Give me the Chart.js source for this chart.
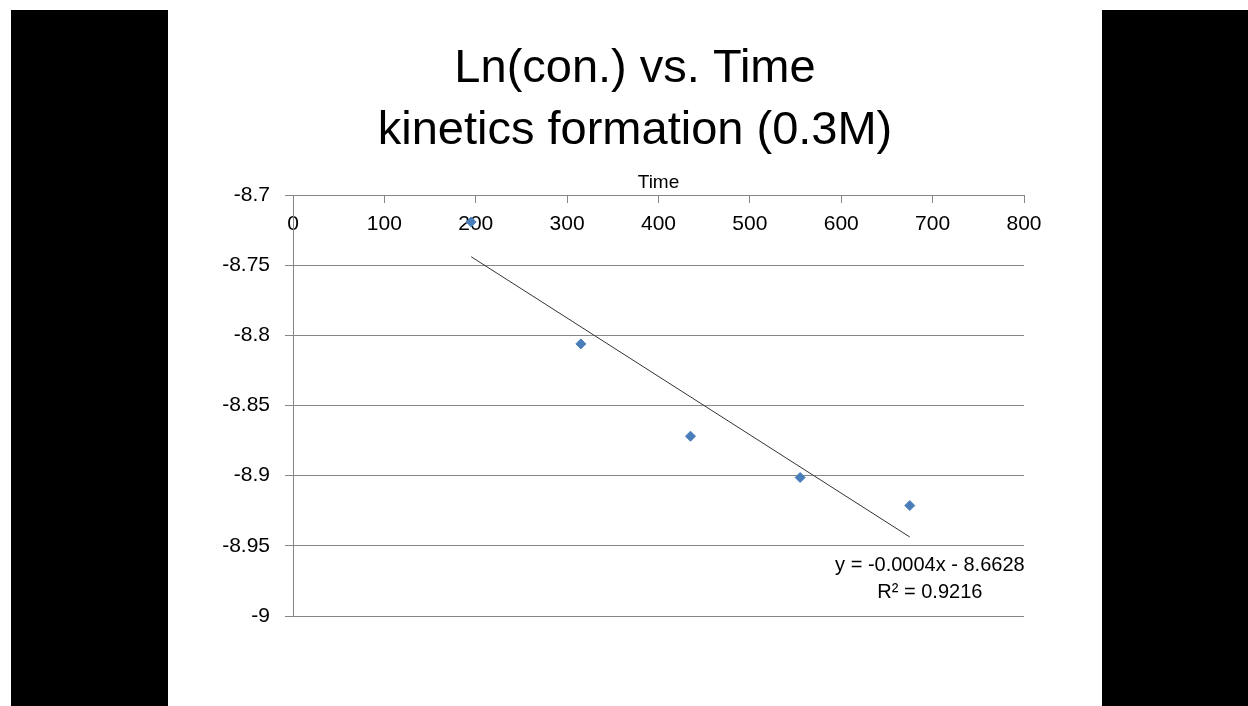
<!DOCTYPE html>
<html>
<head>
<meta charset="utf-8">
<title>Ln(con.) vs. Time</title>
<script src="https://cdn.jsdelivr.net/npm/chart.js@4.4.0/dist/chart.umd.min.js"></script>
<style>
  html, body { margin: 0; padding: 0; background: #fff; }
  #frame { position: absolute; left: 11px; top: 10px; width: 1237px; height: 696px; background: #000; }
  #slide { position: absolute; left: 157px; top: 0; width: 934px; height: 696px; background: #fff; }
</style>
</head>
<body>
<div id="frame">
  <div id="slide"><canvas id="kinetics-chart"></canvas></div>
</div>
<script>
// Readings: time and Ln(concentration).
const times = [ 195, 315, 435, 555, 675 ];
const lnConc = [ -8.7192, -8.8061, -8.8719, -8.9013, -8.9213 ];

// Ends of the linear trendline as drawn on the slide.
const trendTimes = [ 195, 675 ];
const trendValues = [ -8.7440, -8.9437 ];

// Axis ticks.
const timeTicks = [ 0, 100, 200, 300, 400, 500, 600, 700, 800 ];
const lnTicks = [ -8.7, -8.75, -8.8, -8.85, -8.9, -8.95, -9 ];

// Texts.
const titleLines = [ 'Ln(con.) vs. Time', 'kinetics formation (0.3M)' ];
const axisTitle = 'Time';
const equationLines = [ 'y = -0.0004x - 8.6628', 'R\u00b2 = 0.9216' ];

( function () {
  'use strict';

  const FONT = "'Liberation Sans', Arial, sans-serif";
  const GRID = '#868686';

  /**
   * Trendline equation, anchored in data space.
   */
  const equationLabel = {
    id: 'equationLabel',
    afterDatasetsDraw( chart ) {
      const ctx = chart.ctx;
      const x = chart.scales.x.getPixelForValue( 697 );
      const y = chart.scales.y.getPixelForValue( -8.9637 );
      ctx.save();
      ctx.font = '20px ' + FONT;
      ctx.fillStyle = '#000';
      ctx.textAlign = 'center';
      ctx.textBaseline = 'middle';
      equationLines.forEach( ( line, i ) => ctx.fillText( line, x, y + i * 27 ) );
      ctx.restore();
    }
  };

  function initChart() {
    const canvas = document.getElementById( 'kinetics-chart' );
    if ( ! canvas ) {
      return;
    }

    new Chart( canvas.getContext( '2d' ), {
      type: 'scatter',
      data: {
        datasets: [
          {
            label: 'Ln(con.)',
            data: times.map( ( t, i ) => ( { x: t, y: lnConc[ i ] } ) ),
            pointStyle: 'rectRot',
            pointRadius: 5,
            pointBackgroundColor: '#4A7EBB',
            pointBorderColor: '#4A7EBB',
            pointBorderWidth: 1,
            showLine: false,
            order: 0,
          },
          {
            label: 'Linear (Ln(con.))',
            data: trendTimes.map( ( t, i ) => ( { x: t, y: trendValues[ i ] } ) ),
            showLine: true,
            pointRadius: 0,
            borderColor: '#333333',
            borderWidth: 1,
            order: 1,
          },
        ],
      },
      options: {
        responsive: true,
        maintainAspectRatio: false,
        animation: false,
        layout: {
          padding: { left: 0, right: 0, top: 0, bottom: 90 },
        },
        plugins: {
          legend: { display: false },
          tooltip: { enabled: false },
          title: {
            display: true,
            text: titleLines,
            color: '#000',
            font: { family: FONT, size: 47, weight: 'normal', lineHeight: 62 / 47 },
            padding: { top: 28, bottom: 0 },
          },
        },
        scales: {
          x: {
            type: 'linear',
            position: { y: -8.7 },
            min: 0,
            max: 800,
            z: 1,
            afterBuildTicks: ( scale ) => {
              scale.ticks = timeTicks.map( ( v ) => ( { value: v } ) );
            },
            ticks: {
              color: '#000',
              font: { family: FONT, size: 21 },
              padding: 10,
              maxRotation: 0,
              autoSkip: false,
              callback: ( v ) => String( v ),
            },
            grid: {
              drawOnChartArea: false,
              drawTicks: true,
              tickLength: 7,
              color: GRID,
            },
            border: { display: true, color: GRID, width: 1 },
          },
          xTop: {
            type: 'linear',
            position: 'top',
            min: 0,
            max: 800,
            ticks: { display: false },
            grid: { display: false },
            border: { display: false },
            title: {
              display: true,
              text: axisTitle,
              color: '#000',
              font: { family: FONT, size: 19 },
              padding: { top: 9, bottom: 0 },
            },
            afterFit: ( scale ) => {
              scale.height = 33;
            },
          },
          y: {
            type: 'linear',
            position: 'left',
            min: -9,
            max: -8.7,
            afterBuildTicks: ( scale ) => {
              scale.ticks = lnTicks.map( ( v ) => ( { value: v } ) );
            },
            ticks: {
              color: '#000',
              font: { family: FONT, size: 21 },
              padding: 15,
              callback: ( v ) => String( v ),
            },
            grid: {
              color: GRID,
              tickLength: 8,
            },
            border: { display: true, color: GRID, width: 1 },
            afterFit: ( scale ) => {
              scale.width = 125;
            },
          },
          // Empty right-hand gutter so the title stays centred on the slide.
          yGutter: {
            type: 'linear',
            position: 'right',
            min: -9,
            max: -8.7,
            ticks: { display: false },
            grid: { display: false },
            border: { display: false },
            afterFit: ( scale ) => {
              scale.width = 78;
            },
          },
        },
      },
      plugins: [ equationLabel ],
    } );
  }

  initChart();
} )();
</script>
</body>
</html>
